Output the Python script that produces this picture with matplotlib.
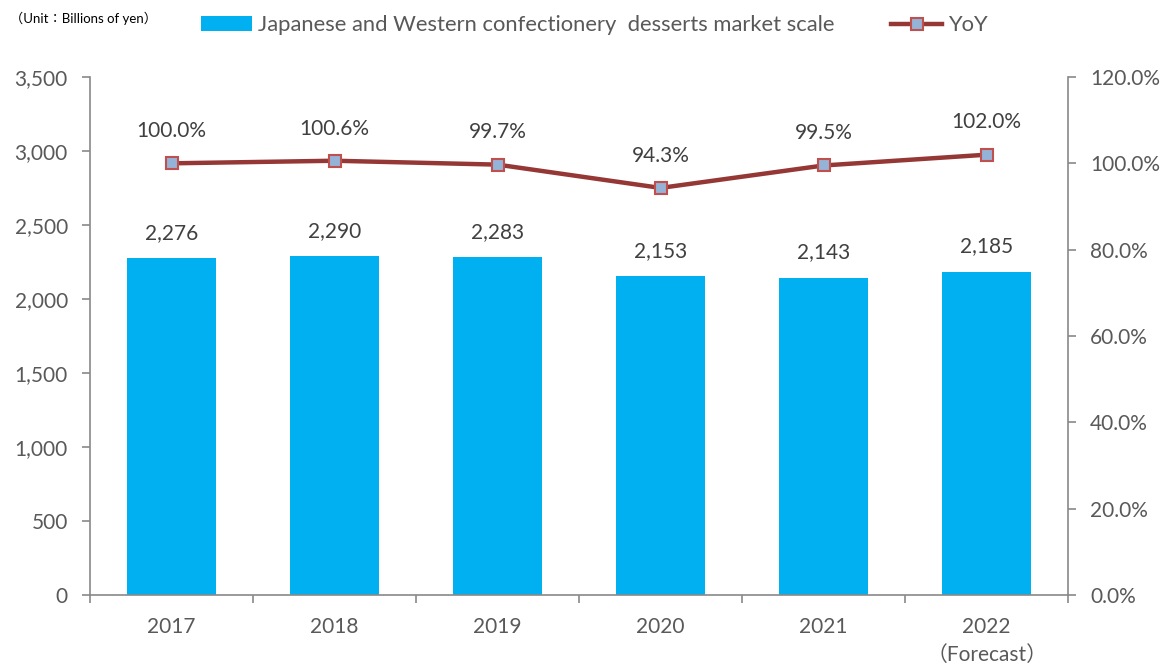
import matplotlib.pyplot as plt
from matplotlib.lines import Line2D
from matplotlib.patches import Patch
import numpy as np

plt.rcParams["font.family"] = ["Lato", "Noto Sans CJK JP", "DejaVu Sans"]

years = ["2017", "2018", "2019", "2020", "2021", "2022\n（Forecast）"]
market = [2276, 2290, 2283, 2153, 2143, 2185]
yoy = [100.0, 100.6, 99.7, 94.3, 99.5, 102.0]

bar_color = "#00B0F0"
line_color = "#953735"
text_color = "#595959"
spine_color = "#898989"

fig = plt.figure(figsize=(11.66, 6.66), dpi=100)
ax = fig.add_axes([0.0772, 0.1066, 0.8388, 0.7778])
ax2 = ax.twinx()

x = np.arange(len(years))
ax.bar(x, market, width=0.55, color=bar_color, zorder=2)
for xi, v in zip(x, market):
    ax.annotate(f"{v:,}", (xi, v), xytext=(0, 11), textcoords="offset points",
                ha="center", va="bottom", fontsize=15, color="#404040")

ax2.plot(x, yoy, color=line_color, lw=3.2, marker="s", markersize=9,
         markerfacecolor="#95B3D7", markeredgecolor="#C0504D", markeredgewidth=1.5,
         zorder=3)
for xi, v in zip(x, yoy):
    ax2.annotate(f"{v:.1f}%", (xi, v), xytext=(0, 16), textcoords="offset points",
                 ha="center", va="bottom", fontsize=15, color="#404040")

ax.set_xlim(-0.5, len(years) - 0.5)
ax.set_ylim(0, 3500)
ax.set_yticks(np.arange(0, 3501, 500))
ax.set_yticklabels([f"{v:,}" for v in range(0, 3501, 500)])
ax2.set_ylim(0, 120)
ax2.set_yticks(np.arange(0, 121, 20))
ax2.set_yticklabels([f"{v:.1f}%" for v in range(0, 121, 20)])

ax.set_xticks(x)
ax.set_xticklabels(years)
ax.set_xticks(np.arange(-0.5, len(years), 1), minor=True)
ax.tick_params(axis="x", which="major", length=0, pad=16, labelsize=15, colors=text_color)
ax.tick_params(axis="x", which="minor", length=6, width=1.2, color=spine_color)
ax.tick_params(axis="y", length=6, width=1.2, color=spine_color, labelsize=15,
               labelcolor=text_color, pad=10)
ax2.tick_params(axis="y", length=6, width=1.2, color=spine_color, labelsize=15,
                labelcolor=text_color, pad=10)
for lbl in ax.get_xticklabels():
    lbl.set_linespacing(1.5)

for a in (ax, ax2):
    a.spines["top"].set_visible(False)
    for s in ("left", "right", "bottom"):
        a.spines[s].set_color(spine_color)
        a.spines[s].set_linewidth(1.2)
ax.spines["right"].set_visible(False)
ax2.spines["left"].set_visible(False)
ax2.spines["bottom"].set_visible(False)

fig.text(0.009, 0.972, "（Unit：Billions of yen）", fontsize=9.5, color="#000000",
         va="center", ha="left")

handles = [Patch(facecolor=bar_color, edgecolor="none"),
           Line2D([], [], color=line_color, lw=3.2, marker="s", markersize=9,
                  markerfacecolor="#95B3D7", markeredgecolor="#C0504D",
                  markeredgewidth=1.5)]
labels = ["Japanese and Western confectionery  desserts market scale", "YoY"]
leg = fig.legend(handles, labels, loc="center left", bbox_to_anchor=(0.1556, 0.962),
                 ncol=2, frameon=False, fontsize=15.8, handlelength=2.33,
                 handletextpad=0.25, columnspacing=2.6)
for t in leg.get_texts():
    t.set_color(text_color)

fig.savefig("out.png", dpi=100)
